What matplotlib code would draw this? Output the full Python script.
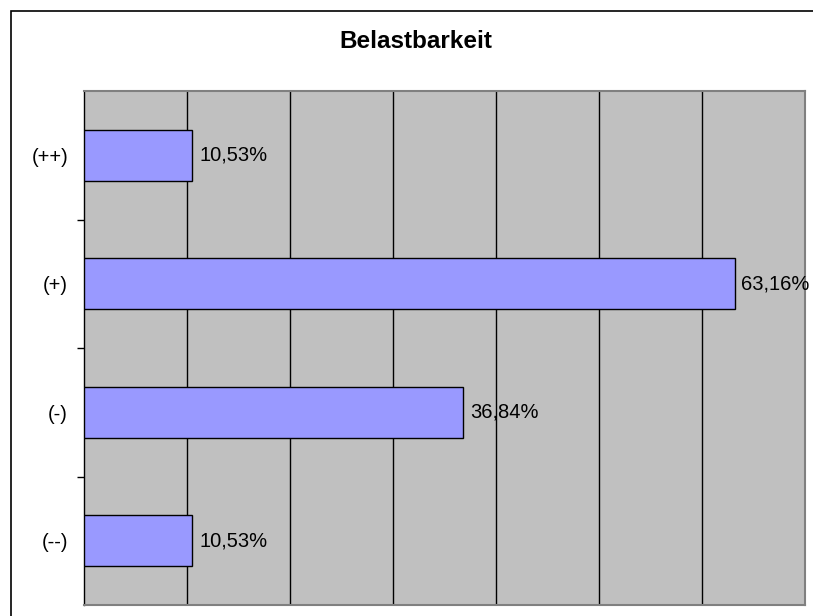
import matplotlib.pyplot as plt
from matplotlib.patches import Rectangle

categories = ['(++)', '(+)', '(-)', '(--)']
values = [10.53, 63.16, 36.84, 10.53]
labels = ['10,53%', '63,16%', '36,84%', '10,53%']

plt.rcParams['font.family'] = ['Liberation Sans', 'DejaVu Sans']

W, H = 813, 616
fig = plt.figure(figsize=(W / 100, H / 100), dpi=100)
fig.patch.set_facecolor('white')

# plot area in pixels: left 84, right 805, top 91, bottom 605
ax = fig.add_axes([84 / W, 1 - 605 / H, (805 - 84) / W, (605 - 91) / H])
ax.set_facecolor('#C0C0C0')

ypos = list(range(len(categories)))
ax.barh(ypos, values, height=0.4, color='#9999FF', edgecolor='black', linewidth=1, zorder=3)
for y, v, t in zip(ypos, values, labels):
    ax.annotate(t, (v, y), xytext=(5, 0), textcoords='offset points',
                va='center', ha='left', fontsize=14.5, zorder=4)

ax.set_xlim(0, 70)
ax.set_ylim(len(categories) - 0.5, -0.5)
for x in range(10, 70, 10):
    ax.axvline(x, color='black', linewidth=1, zorder=1)

ax.set_xticks([])
ax.set_yticks(ypos)
ax.set_yticklabels(categories, fontsize=14.5)
ax.tick_params(axis='y', which='major', length=0, pad=11.5)
ax.set_yticks([0.5, 1.5, 2.5], minor=True)
ax.tick_params(axis='y', which='minor', length=5, width=1, color='black', direction='out')

for s in ['top', 'right', 'bottom']:
    ax.spines[s].set_color('#808080')
    ax.spines[s].set_linewidth(1.5)
ax.spines['left'].set_color('black')
ax.spines['left'].set_linewidth(1)

fig.text(415.5 / W, 1 - 41.5 / H, 'Belastbarkeit', ha='center', va='center',
         fontsize=17.5, fontweight='bold')

# chart border (extends past the image edge on right/bottom)
fig.patches.append(Rectangle((10.5 / W, -0.1), 1.2, 1 - 10.5 / H + 0.1, transform=fig.transFigure,
                             fill=False, edgecolor='black', linewidth=1.2))

fig.savefig('out.png', dpi=100)
